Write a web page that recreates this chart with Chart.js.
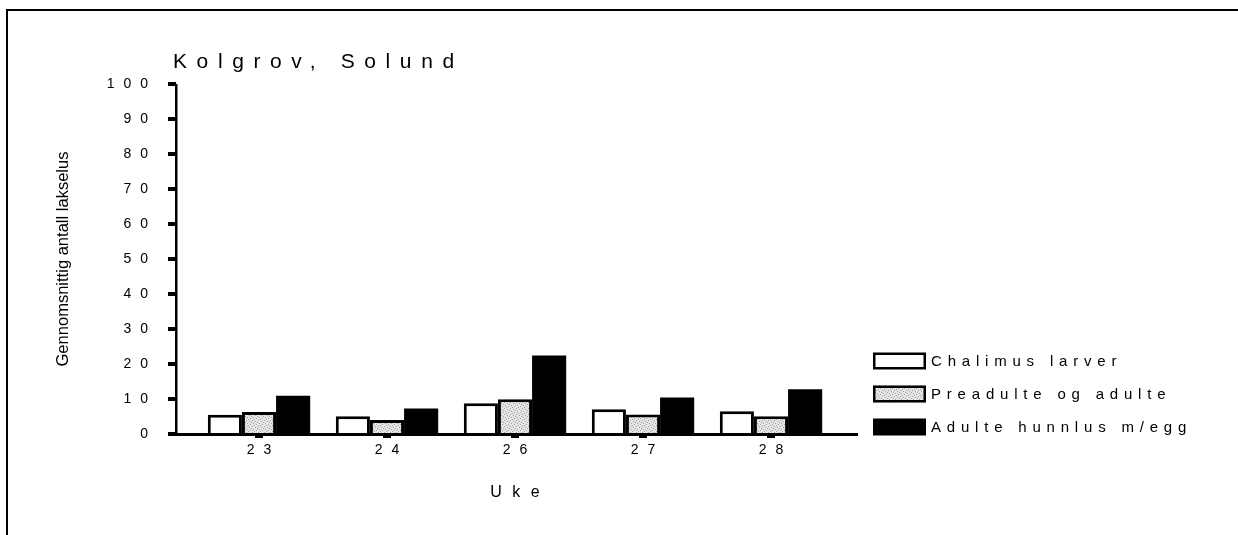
<!DOCTYPE html>
<html>
<head>
<meta charset="utf-8">
<title>Kolgrov, Solund</title>
<style>
  html, body { margin: 0; padding: 0; background: #fff; }
  #wrap { position: relative; width: 1238px; height: 535px; overflow: hidden; }
  #wrap canvas { position: absolute; left: 0; top: 0; }
  #frame { position: absolute; left: 6px; top: 9px; right: -4px; bottom: -4px;
           border-left: 2px solid #000; border-top: 2px solid #000; pointer-events: none; }
</style>
<script src="https://cdn.jsdelivr.net/npm/chart.js@4/dist/chart.umd.min.js"></script>
</head>
<body>
<div id="wrap">
  <canvas id="chart" width="1238" height="535"></canvas>
  <div id="frame"></div>
</div>
<script>
// ---- data ----
const chartTitle = 'Kolgrov, Solund';
const xAxisTitle = 'Uke';
const yAxisTitle = 'Gennomsnittig antall lakselus';
const weeks = ['23', '24', '26', '27', '28'];
const seriesNames = ['Chalimus larver', 'Preadulte og adulte', 'Adulte hunnlus m/egg'];
const chalimusLarver    = [5.5, 5.1, 8.8, 7.1, 6.5];
const preadulteOgAdulte = [6.3, 4.0, 9.9, 5.6, 5.1];
const adulteHunnlus     = [10.9, 7.3, 22.4, 10.4, 12.8];
const yTickValues = [0, 10, 20, 30, 40, 50, 60, 70, 80, 90, 100];

// ---- styling ----
const FONT = "'Liberation Sans', Arial, sans-serif";
const TICK_SPACING = 9;        // letter spacing for tick labels
const AXIS_GAP_LEFT = 19;      // y axis line sits left of the plot area
const AXIS_EXT_RIGHT = 23;     // x axis line runs past the last group

const canvas = document.getElementById('chart');
const ctx = canvas.getContext('2d');

// light stippled fill for the middle series
function stipplePattern() {
  const t = document.createElement('canvas');
  t.width = 6; t.height = 6;
  const g = t.getContext('2d');
  g.fillStyle = '#e4e4e4';
  g.fillRect(0, 0, 6, 6);
  g.fillStyle = '#a0a0a0';
  [[0, 0], [3, 1], [1, 3], [4, 4], [5, 2], [2, 5]].forEach(([x, y]) => g.fillRect(x, y, 1, 1));
  return ctx.createPattern(t, 'repeat');
}
const stipple = stipplePattern();

const seriesStyles = [
  { fill: '#ffffff', border: '#000', borderWidth: 3 },
  { fill: stipple,   border: '#000', borderWidth: 3 },
  { fill: '#000000', border: '#000', borderWidth: 0 }
];

function spacedText(c, text, x, y, spacing, align) {
  c.letterSpacing = spacing + 'px';
  const w = c.measureText(text).width - spacing;
  let sx = x;
  if (align === 'center') sx = x - w / 2;
  else if (align === 'right') sx = x - w;
  c.textAlign = 'left';
  c.fillText(text, sx, y);
  c.letterSpacing = '0px';
}

const decorPlugin = {
  id: 'decor',
  beforeDraw(chart) {
    chart.ctx.letterSpacing = TICK_SPACING + 'px';
  },
  beforeDatasetsDraw(chart) {
    chart.ctx.letterSpacing = '0px';
  },
  afterDatasetsDraw(chart) {
    const c = chart.ctx;
    const a = chart.chartArea;
    const xs = chart.scales.x, ys = chart.scales.y;
    const axisX = a.left - AXIS_GAP_LEFT;
    c.save();
    c.fillStyle = '#000';
    // y axis line
    c.fillRect(axisX - 1, a.top, 2.5, a.bottom - a.top + 2);
    // y tick marks
    yTickValues.forEach(v => {
      const py = ys.getPixelForValue(v);
      c.fillRect(axisX - 8, Math.round(py) - 2, 8, 4);
    });
    // x axis line
    c.fillRect(axisX - 8, a.bottom - 1, (a.right + AXIS_EXT_RIGHT) - (axisX - 8), 3);
    // x tick marks
    weeks.forEach((w, i) => {
      const px = xs.getPixelForValue(i);
      c.fillRect(Math.round(px) - 4, a.bottom + 1, 8, 3);
    });
    c.restore();
  },
  afterDraw(chart) {
    const c = chart.ctx;
    const a = chart.chartArea;
    c.save();
    c.fillStyle = '#000';
    c.textBaseline = 'alphabetic';

    // chart title
    c.font = '21px ' + FONT;
    spacedText(c, chartTitle, a.left - 22, 68, 9.6, 'left');

    // x axis title
    c.font = '16px ' + FONT;
    spacedText(c, xAxisTitle, (a.left + a.right) / 2, 497, 10.5, 'center');

    // y axis title, narrow and rotated
    c.save();
    c.translate(68, (a.top + a.bottom) / 2);
    c.rotate(-Math.PI / 2);
    c.font = '17px ' + FONT;
    c.letterSpacing = '0px';
    const natural = c.measureText(yAxisTitle).width;
    c.scale(215 / natural, 1);
    c.textAlign = 'center';
    c.fillText(yAxisTitle, 0, 0);
    c.restore();

    // legend
    const lx = a.right + 38;
    const rowStep = 33;
    const lastRowY = a.bottom - 7;
    c.font = '15px ' + FONT;
    c.textBaseline = 'middle';
    chart.data.datasets.forEach((ds, i) => {
      const cy = lastRowY - (chart.data.datasets.length - 1 - i) * rowStep;
      const st = seriesStyles[i];
      c.fillStyle = st.fill;
      c.fillRect(lx, cy - 8.5, 53, 17);
      if (st.borderWidth) {
        c.strokeStyle = '#000';
        c.lineWidth = 2.5;
        c.strokeRect(lx + 1.25, cy - 7.25, 50.5, 14.5);
      }
      c.fillStyle = '#000';
      spacedText(c, ds.label, lx + 58, cy + 1, 5.8, 'left');
    });
    c.restore();
  }
};

const datasets = [chalimusLarver, preadulteOgAdulte, adulteHunnlus].map((values, i) => ({
  label: seriesNames[i],
  data: values,
  backgroundColor: seriesStyles[i].fill,
  borderColor: seriesStyles[i].border,
  borderWidth: seriesStyles[i].borderWidth,
  borderSkipped: 'start',
  barPercentage: 1.0,
  categoryPercentage: 0.8
}));

new Chart(canvas, {
  type: 'bar',
  data: { labels: weeks, datasets },
  options: {
    responsive: false,
    animation: false,
    devicePixelRatio: 1,
    layout: { padding: { top: 84, right: 403, left: 0, bottom: 0 } },
    plugins: {
      legend: { display: false },
      title: { display: false },
      tooltip: { enabled: false }
    },
    scales: {
      x: {
        type: 'category',
        offset: true,
        grid: { display: false, drawTicks: false },
        border: { display: false },
        ticks: {
          color: '#000',
          font: { family: FONT, size: 14 },
          padding: 8,
          labelOffset: TICK_SPACING / 2,
          maxRotation: 0,
          autoSkip: false
        },
        afterFit(s) { s.height = 101; }
      },
      y: {
        min: 0,
        max: 100,
        grid: { display: false, drawTicks: false },
        border: { display: false },
        afterBuildTicks(s) { s.ticks = yTickValues.map(v => ({ value: v })); },
        ticks: {
          color: '#000',
          font: { family: FONT, size: 14 },
          padding: 38
        },
        afterFit(s) { s.width = 195; }
      }
    }
  },
  plugins: [decorPlugin]
});
</script>
</body>
</html>
